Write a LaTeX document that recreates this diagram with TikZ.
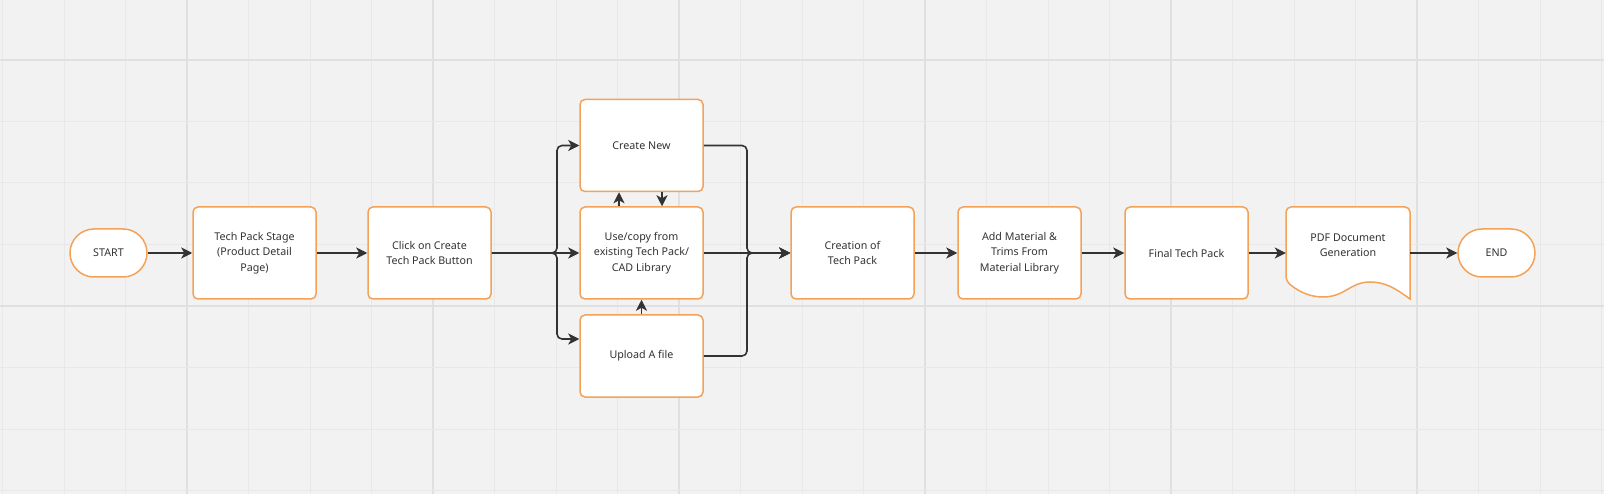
\documentclass[tikz,border=0pt]{standalone}
\usepackage{fontspec}
\setmainfont{Noto Sans}
\usetikzlibrary{arrows.meta}
\definecolor{bg}{HTML}{F2F2F2}
\definecolor{gridminor}{HTML}{E8E8E8}
\definecolor{gridmajor}{HTML}{E0E0E0}
\definecolor{orangeb}{HTML}{F4A258}
\definecolor{ink}{HTML}{333333}
\tikzset{
  box/.style={rectangle, rounded corners=5pt, draw=orangeb, fill=white, line width=1.5pt,
    minimum width=123pt, minimum height=92pt, align=center, text=ink,
    font=\fontsize{10.7pt}{15.5pt}\selectfont, inner sep=2pt},
  term/.style={rectangle, rounded corners=24pt, draw=orangeb, fill=white, line width=1.5pt,
    minimum width=77pt, minimum height=48pt, align=center, text=ink,
    font=\fontsize{10.7pt}{15.5pt}\selectfont},
  txt/.style={align=center, text=ink, font=\fontsize{10.7pt}{15.5pt}\selectfont},
  arr/.style={draw=ink, line width=1.6pt, -{Stealth[length=11pt,width=11pt,inset=3pt]}},
}
\begin{document}
\begin{tikzpicture}[x=1pt,y=-1pt]
\useasboundingbox (0,0) rectangle (1604,494);
\fill[bg] (0,0) rectangle (1604,494);
% grid
\foreach \k in {0,...,26} {
  \pgfmathsetmacro\gx{2.5+61.5*\k}
  \pgfmathtruncatemacro\m{mod(\k,4)}
  \ifnum\m=3
    \draw[gridmajor, line width=1.6pt] (\gx,0) -- (\gx,494);
  \else
    \draw[gridminor, line width=1pt] (\gx,0) -- (\gx,494);
  \fi
}
\foreach \k in {1,...,8} {
  \pgfmathsetmacro\gy{-1.5+61.5*\k}
  \pgfmathtruncatemacro\m{mod(\k,4)}
  \ifnum\m=1
    \draw[gridmajor, line width=1.6pt] (0,\gy) -- (1604,\gy);
  \else
    \draw[gridminor, line width=1pt] (0,\gy) -- (1604,\gy);
  \fi
}
% nodes
\node[term] (start) at (108.5,253) {START};
\node[box] (tps) at (254.5,253) {Tech Pack Stage\\(Product Detail\\Page)};
\node[box] (click) at (429.5,253) {Click on Create\\Tech Pack Button};
\node[box] (create) at (641.5,145.5) {Create New};
\node[box] (use) at (641.5,253) {Use/copy from\\existing Tech Pack/\\CAD Library};
\node[box, minimum height=82pt] (upload) at (641.5,356) {Upload A file};
\node[box] (creation) at (852.5,253) {Creation of\\Tech Pack};
\node[box] (addmat) at (1019.5,253) {Add Material \&\\Trims From\\Material Library};
\node[box] (final) at (1186.5,253) {Final Tech Pack};
\node[minimum width=124pt, minimum height=92pt, inner sep=0pt] (pdf) at (1348,253) {};
\draw[draw=orangeb, fill=white, line width=1.5pt]
  (1410,299) [rounded corners=5pt] -- (1410,207) -- (1286,207) -- (1286,281) [sharp corners]
  .. controls (1300,293) and (1312,297) .. (1323,297)
  .. controls (1345,297) and (1350,282) .. (1370,282)
  .. controls (1385,282) and (1395,288) .. (1410,299) -- cycle;
\node[txt] (pdftxt) at (1348,245) {PDF Document\\Generation};
\node[term] (end) at (1496.5,253) {END};
% connectors
\coordinate (lsplit) at (557,253);
\coordinate (rmerge) at (747,253);
\draw[arr] (start) -- (tps);
\draw[arr] (tps) -- (click);
\draw[arr, rounded corners=5pt] (click.east) -- (lsplit) |- (create.west);
\draw[arr] (click.east) -- (use.west);
\draw[arr, rounded corners=5pt] (click.east) -- (lsplit) |- ([yshift=17pt]upload.west);
\draw[arr] ([xshift=-22.5pt]use.north) -- ([xshift=-22.5pt]create.south);
\draw[arr] ([xshift=20.5pt]create.south) -- ([xshift=20.5pt]use.north);
\draw[arr] (upload.north) -- (use.south);
\draw[arr, rounded corners=5pt] (create.east) -| (rmerge) -- (creation.west);
\draw[arr] (use.east) -- (creation.west);
\draw[arr, rounded corners=5pt] (upload.east) -| (rmerge) -- (creation.west);
\draw[arr] (creation) -- (addmat);
\draw[arr] (addmat) -- (final);
\draw[arr] (final.east) -- (pdf.west);
\draw[arr] (pdf.east) -- (end.west);
\end{tikzpicture}
\end{document}
